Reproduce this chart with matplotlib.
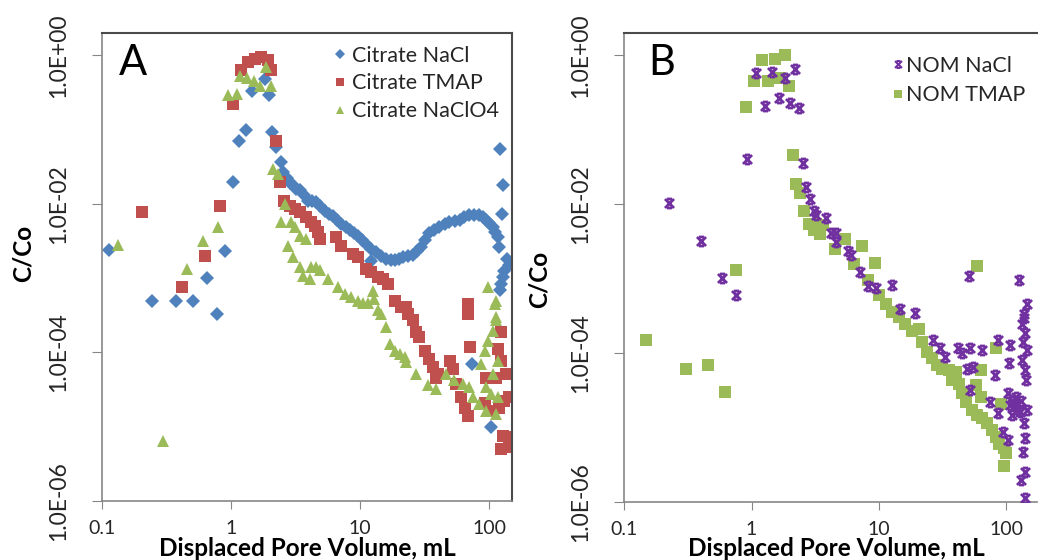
import matplotlib
matplotlib.use('Agg')
import matplotlib.pyplot as plt
from matplotlib.path import Path
from matplotlib.lines import Line2D

plt.rcParams['font.family'] = ['Lato', 'DejaVu Sans']

# ---- panel A: citrate ----
cit_nacl_x = [0.113, 0.245, 0.371, 0.508, 0.645, 0.771, 0.90, 1.04, 1.15, 1.30,
              1.44, 1.82, 1.97, 2.09, 2.24, 2.42,
              2.52, 2.7, 2.85, 3.02, 3.2, 3.4, 3.65, 3.94, 4.2, 4.57, 4.9, 5.31,
              5.7, 6.15, 6.6, 7.14, 7.7, 8.28, 8.9, 9.6, 10.3, 11.1, 12.2, 12.2,
              13.3, 14.5, 15.9, 17.2, 18.5, 20, 21.4, 23.5, 25.6, 27.5, 29.7,
              32, 34.4, 37, 41, 45, 49, 54, 59, 64, 70, 76, 84, 90, 94, 100,
              106, 111, 116, 120, 122, 126, 128.5, 136, 141, 131, 127, 123,
              121, 73.6, 103]
cit_nacl_y = [2.4e-3, 4.9e-4, 4.9e-4, 4.9e-4, 1.0e-3, 3.3e-4, 2.3e-3, 0.020, 0.071, 0.10,
              0.33, 0.48, 0.29, 0.092, 0.058, 0.037,
              0.0267, 0.022, 0.019, 0.0177, 0.016, 0.0152, 0.013, 0.0111, 0.0108,
              0.0105, 0.0093, 0.0081, 0.0074, 0.0068, 0.0061, 0.0054, 0.0049,
              0.0044, 0.0040, 0.0037, 0.0033, 0.0029, 0.0025, 0.00168,
              0.00223, 0.0020, 0.00182, 0.00176, 0.00173, 0.00182, 0.00191,
              0.0020, 0.00202, 0.0023, 0.0026,
              0.0033, 0.0040, 0.0044, 0.0049, 0.0053, 0.0057, 0.0059, 0.0060,
              0.0066, 0.0070, 0.0071, 0.0070, 0.0066, 0.0060, 0.0055,
              0.0049, 0.0042, 0.0036, 0.0026, 0.055, 0.0074, 0.0177, 0.0018,
              0.0015, 0.00125, 0.00103, 0.00084, 0.0007, 7.0e-5, 9.8e-6]

cit_tmap_x = [0.205, 0.413, 0.626, 0.818, 1.04, 1.20, 1.35, 1.52, 1.72, 1.93,
              2.05, 2.22, 2.41, 2.56, 2.84, 3.11, 3.40, 3.83, 4.19, 4.44, 4.71,
              4.85, 6.53, 7.14, 8.79, 9.6, 11.1, 12.2, 13.7, 15.0, 16.4, 18.5,
              20.8, 22.7, 23.5, 25.6, 27.2, 28.8, 31.5, 34.4, 36.5, 38.8, 39.9,
              49.2, 52.2, 55.4, 60.6, 64.3, 68.2, 68.2, 68.2, 70.3, 94.6, 113,
              124, 116, 124, 135, 143, 131, 120, 127, 143, 124, 143, 107, 92]
cit_tmap_y = [7.7e-3, 7.7e-4, 2.0e-3, 9.3e-3, 0.223, 0.64, 0.81, 0.90, 0.95, 0.86,
              0.64, 0.071, 0.0196, 0.0111, 0.0095, 0.0086, 0.0077, 0.0066,
              0.0057, 0.0051, 0.0042, 0.0034, 0.0036, 0.0027, 0.0021, 0.00195,
              0.00133, 0.0012, 0.00103, 0.00098, 0.00084, 5.0e-4, 4.1e-4, 4.1e-4,
              3.3e-4, 2.7e-4, 1.87e-4, 1.6e-4, 1.06e-4, 8.2e-5, 6.3e-5, 4.6e-5,
              5.1e-5, 7.7e-5, 6.0e-5, 3.8e-5, 2.5e-5, 1.8e-5, 1.4e-5, 4.5e-4,
              3.3e-4, 1.17e-4, 4.6e-5, 4.6e-5, 1.87e-4, 1.11e-4, 7.7e-5, 5.1e-5,
              2.5e-5, 2.2e-5, 1.8e-5, 7.6e-6, 7.2e-6, 5.0e-6, 5.3e-6, 1.64e-5,
              2.1e-5]

cit_naclo4_x = [0.134, 0.295, 0.457, 0.607, 0.793, 0.948, 1.11, 1.18, 1.32, 1.50,
                1.67, 1.85, 2.02, 2.11, 2.31, 2.60, 2.45, 2.93, 3.11, 3.40, 3.83,
                2.76, 3.02, 3.40, 3.60, 4.06, 4.19, 4.57, 4.85, 5.62, 6.72, 7.57,
                8.53, 9.6, 10.5, 11.5, 12.5, 12.9, 13.7, 14.6, 15.9, 16.9, 18.5,
                20.2, 22.1, 22.7, 27.2, 33.4, 38.8, 46.3, 53.7, 62.3, 70.2, 74.5,
                83.8, 94.4, 113, 103, 116, 113, 107, 97.5, 92, 86.5, 97.5, 113,
                110, 113, 116, 107, 94.4]
cit_naclo4_y = [2.8e-3, 6.5e-6, 1.33e-3, 3.2e-3, 4.9e-3, 0.295, 0.305, 0.52, 0.50,
                0.45, 0.39, 0.70, 0.39, 0.0297, 0.0255, 0.0100, 0.0057, 0.0057,
                0.00485, 0.00375, 0.0034, 0.00275, 0.00191, 0.0014, 0.00108,
                0.00098, 0.0014, 0.0014, 0.00127, 0.00098, 0.00075, 0.00061,
                0.00055, 0.0005, 0.00047, 0.00047, 0.00068, 0.00053, 0.00037,
                0.00033, 0.00022, 0.00013, 1.06e-4, 9.5e-5, 8.6e-5, 7.4e-5,
                5.1e-5, 3.6e-5, 3.2e-5, 5.1e-5, 4.2e-5, 3.8e-5, 3.4e-5, 2.5e-5,
                2.0e-5, 1.64e-5, 1.48e-5, 2.8e-5, 2.5e-5, 2.7e-4, 1.97e-4,
                1.44e-4, 1.06e-4, 7.0e-5, 7.5e-4, 5.0e-4, 4.5e-4, 3.0e-4, 7.7e-5,
                5.1e-5, 3.4e-5]

# ---- panel B: NOM ----
nom_nacl_x = [0.226, 0.402, 0.583, 0.758, 0.925, 1.09, 1.28, 1.45, 1.63, 1.84,
              2.02, 2.18, 2.37, 2.52, 2.70, 2.90, 3.08, 3.23, 3.87, 4.24, 4.64,
              4.64, 5.73, 6.10, 7.08, 8.24, 9.47, 12.6, 14.6, 19.2, 26.8, 30.2,
              33.1, 42.1, 44.8, 52.1, 64.4, 87, 107, 105, 82, 49, 55, 75, 87,
              95, 104, 52, 51, 126, 104, 111, 118, 124, 111, 120, 129, 107,
              146, 138, 134, 141, 136, 146, 134, 140, 143, 132, 145, 138, 141,
              136, 140, 131, 140, 139]
nom_nacl_y = [0.0104, 3.2e-3, 1.03e-3, 6.1e-4, 0.041, 0.58, 0.209, 0.60, 0.267,
              0.49, 0.229, 0.66, 0.196, 0.036, 0.0171, 0.0117, 0.0081, 0.0071,
              0.0066, 0.0041, 0.0041, 0.0031, 0.00236, 0.00207, 0.00123,
              0.00079, 0.00074, 0.00082, 0.00039, 0.00035, 1.49e-4, 1.16e-4,
              8.9e-5, 1.16e-4, 9.9e-5, 1.16e-4, 1.1e-4, 1.5e-4, 1.28e-4, 7.3e-5,
              5.1e-5, 6.2e-5, 6.5e-5, 2.2e-5, 1.55e-5, 8.8e-6, 6.8e-6, 3.2e-5,
              1.1e-3, 9.5e-4, 2.9e-5, 2.3e-5, 2.0e-5, 1.7e-5, 1.47e-5, 2.6e-5,
              1.6e-5, 2.0e-5,
              4.6e-4, 3.4e-4, 2.5e-4, 1.84e-4, 1.42e-4, 1.1e-4, 8.1e-5, 5.9e-5,
              4.3e-5, 2.3e-5, 1.7e-5, 1.14e-5, 7.2e-6, 4.7e-6, 2.55e-6, 1.97e-6,
              1.12e-6, 3.0e-4]

nom_tmap_x = [0.148, 0.304, 0.451, 0.613, 0.752, 0.908, 1.05, 1.20, 1.34, 1.52,
              1.66, 1.82, 1.96, 2.10, 2.25, 2.39, 2.59, 2.81, 3.08, 3.23, 3.47,
              3.64, 4.51, 5.40, 6.36, 7.39, 9.3, 58.8, 8.24, 10, 11.3, 12.7,
              14.4, 16.2, 18.3, 20.7, 21.9, 24.0, 26.3, 28.8, 31.5, 35.6, 40.2,
              37.8, 42.7, 45.3, 48.2, 54.3, 59.4, 65, 71.2, 78, 83, 88, 96.5,
              99.5, 96.5, 63.2, 57.7, 63.2, 83, 90.9]
nom_tmap_y = [1.49e-4, 6.2e-5, 6.9e-5, 3.0e-5, 1.3e-3, 0.202, 0.448, 0.875, 0.448,
              0.90, 0.50, 1.0, 0.384, 0.0466, 0.0187, 0.0141, 0.0082, 0.0054,
              0.0045, 0.0055, 0.0040, 0.0052, 0.00247, 0.0034, 0.0016, 0.00275,
              0.00165, 0.00147, 9.5e-4, 6.0e-4, 4.6e-4, 3.6e-4, 3.1e-4, 2.5e-4,
              2.0e-4, 2.1e-4, 1.42e-4, 1.04e-4, 8.5e-5, 6.9e-5, 6.2e-5, 5.9e-5,
              5.6e-5, 4.3e-5, 3.9e-5, 2.9e-5, 2.2e-5, 1.7e-5, 1.47e-5, 1.33e-5,
              1.14e-5, 9.2e-6, 7.5e-6, 6.1e-6, 5.3e-6, 4.5e-6, 3.0e-6, 6.0e-5,
              3.7e-5, 2.6e-5, 1.18e-4, 2.1e-5]

BLUE = '#4F81BD'
RED = '#C0504D'
GREEN = '#9BBB59'
PURPLE = '#7030A0'

W, H = 1038, 560
fig = plt.figure(figsize=(W / 100, H / 100), dpi=100)


def px_box(left, top, right, bottom):
    return [left / W, 1 - bottom / H, (right - left) / W, (bottom - top) / H]


def style_axes(ax, xmax):
    ax.set_xscale('log')
    ax.set_yscale('log')
    ax.set_xlim(0.1, xmax)
    ax.set_ylim(1e-6, 2)
    ax.set_xticks([0.1, 1, 10, 100])
    ax.set_xticklabels(['0.1', '1', '10', '100'])
    ax.set_yticks([1e-6, 1e-4, 1e-2, 1])
    ax.set_yticklabels(['1.0E-06', '1.0E-04', '1.0E-02', '1.0E+00'],
                       rotation=90, va='center')
    ax.minorticks_off()
    ax.tick_params(axis='x', length=6, color='#868686', labelsize=14,
                   pad=8, labelcolor='#262626')
    ax.tick_params(axis='y', length=7, color='#868686', labelsize=16.5,
                   pad=17, labelcolor='#262626')
    for s in ('left', 'bottom'):
        ax.spines[s].set_color('#868686')
        ax.spines[s].set_linewidth(1.2)
    for s in ('top', 'right'):
        ax.spines[s].set_color('#4a4a4a')
        ax.spines[s].set_linewidth(1.5)


star = Path([(-1, -1), (1, 1), (-1, 1), (1, -1),
             (-0.55, 1), (0.55, 1), (-0.55, -1), (0.55, -1)],
            [Path.MOVETO, Path.LINETO] * 4)

# panel A
axA = fig.add_axes(px_box(102, 33, 512, 501))
style_axes(axA, 150)
axA.plot(cit_nacl_x, cit_nacl_y, ls='none', marker='D', ms=7.5, mfc=BLUE,
         mew=0, label='Citrate NaCl')
axA.plot(cit_tmap_x, cit_tmap_y, ls='none', marker='s', ms=8, mfc=RED,
         mew=0, label='Citrate TMAP')
axA.plot(cit_naclo4_x, cit_naclo4_y, ls='none', marker='^', ms=9, mfc=GREEN,
         mew=0, label='Citrate NaClO4')
axA.legend(loc='upper left', bbox_to_anchor=(0.562, 0.973), frameon=False,
           fontsize=15.5, handlelength=0.7, handletextpad=0.2,
           labelspacing=0.36, borderpad=0, borderaxespad=0, markerscale=0.7,
           labelcolor='#262626')

# panel B
axB = fig.add_axes(px_box(624.3, 33, 1037, 502))
style_axes(axB, 175)
axB.spines['right'].set_visible(False)
axB.plot(nom_tmap_x, nom_tmap_y, ls='none', marker='s', ms=9, mfc=GREEN,
         mew=0, zorder=2)
axB.plot(nom_nacl_x, nom_nacl_y, ls='none', marker=star, ms=6.5, mec=PURPLE,
         mew=2, zorder=3)
hB = [Line2D([], [], ls='none', marker=star, ms=5, mec=PURPLE, mew=1.5),
      Line2D([], [], ls='none', marker='s', ms=6, mfc=GREEN, mew=0)]
axB.legend(hB, ['NOM NaCl', 'NOM TMAP'], loc='upper left',
           bbox_to_anchor=(0.648, 0.952), frameon=False, fontsize=15.5,
           handlelength=0.6, handletextpad=0.05, labelspacing=0.45,
           borderpad=0, borderaxespad=0, labelcolor='#262626')


def ftext(x, y, s, **kw):
    fig.text(x / W, 1 - y / H, s, **kw)


ftext(133, 63, 'A', fontsize=30, ha='center', va='center', color='black')
ftext(662, 63, 'B', fontsize=30, ha='center', va='center', color='black')
ftext(307, 548, 'Displaced Pore Volume, mL', fontsize=17.5, fontweight='bold',
      ha='center', va='center')
ftext(836, 548, 'Displaced Pore Volume, mL', fontsize=17.5, fontweight='bold',
      ha='center', va='center')
ftext(23, 253, 'C/Co', fontsize=17.5, fontweight='bold', rotation=90,
      ha='center', va='center')
ftext(539, 279, 'C/Co', fontsize=17.5, fontweight='bold', rotation=90,
      ha='center', va='center')

fig.savefig('out.png', dpi=100)
